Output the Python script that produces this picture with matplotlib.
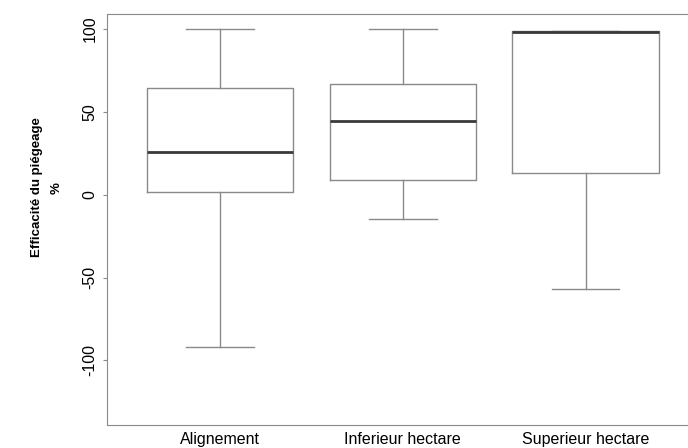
import matplotlib.pyplot as plt

plt.rcParams['font.family'] = ['Liberation Sans', 'DejaVu Sans']

groups = ["Alignement", "Inferieur_hectare", "Superieur_hectare"]
whislo = [-92, -14.5, -57]
q1 = [1.8, 9, 13.3]
med = [26, 44.6, 98]
q3 = [64.5, 67, 99]
whishi = [100, 100, 99]

stats = []
for i in range(len(groups)):
    stats.append(dict(label=groups[i].replace("_", " "), whislo=whislo[i], q1=q1[i],
                      med=med[i], q3=q3[i], whishi=whishi[i], fliers=[]))

fig = plt.figure(figsize=(6.88, 4.48), dpi=100)
ax = fig.add_axes([0.1555, 0.0513, 0.8445, 0.9175])

gray = '#8a8a8a'
ax.bxp(stats, positions=[1, 2, 3], widths=0.8, showfliers=False,
       boxprops=dict(color=gray, linewidth=1.0),
       whiskerprops=dict(color=gray, linewidth=1.0),
       capprops=dict(color=gray, linewidth=1.0),
       medianprops=dict(color='#3a3a3a', linewidth=2.0),
       capwidths=0.37)

ax.set_xlim(0.383, 3.56)
ax.set_ylim(-139, 109)
ax.set_yticks([-100, -50, 0, 50, 100])
ax.set_yticklabels(['-100', '-50', '0', '50', '100'], rotation=90, va='center',
                   fontsize=11.5)
ax.tick_params(axis='y', length=3, color=gray, pad=4)
ax.tick_params(axis='x', length=0, labelsize=11.5, pad=5)

for s in ['left', 'top', 'bottom']:
    ax.spines[s].set_color(gray)
ax.spines['right'].set_visible(False)

# axis title, two lines placed like the original
fig.text(37 / 688, 1 - 187 / 448, "Efficacité du piégeage", rotation=90,
         ha='center', va='center', fontsize=9.5, fontweight='bold')
fig.text(57 / 688, 1 - 188 / 448, "%", rotation=90,
         ha='center', va='center', fontsize=9.5, fontweight='bold')

fig.savefig("out.png", dpi=100)
